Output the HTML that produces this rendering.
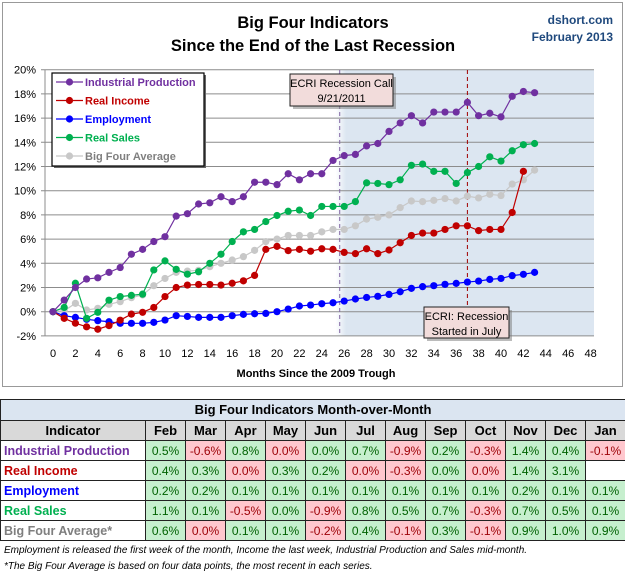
<!DOCTYPE html>
<html><head><meta charset="utf-8"><style>
body{margin:0;background:#fff;font-family:"Liberation Sans",sans-serif}
#wrap{position:relative;width:625px;height:572px;overflow:hidden}
table{position:absolute;left:0;top:399px;border-collapse:collapse;width:625px;table-layout:fixed;font-size:12px}
td,th{border:1px solid #222;padding:0;text-align:center;height:19px;line-height:18px}
.g{background:#c6efce;color:#006100}.r{background:#ffc7ce;color:#9c0006}
.nm{text-align:left;padding-left:3px;font-weight:bold;font-size:12.5px}
.fn{position:absolute;left:4px;font-style:italic;font-size:10px;line-height:12px;color:#000}
</style></head><body><div id="wrap">
<svg id="chart" width="625" height="392" style="position:absolute;left:0;top:0">
<defs><linearGradient id="sh" x1="0" x2="1"><stop offset="0" stop-color="#fff"/><stop offset="0.04" stop-color="#dce6f1"/><stop offset="1" stop-color="#dce6f1"/></linearGradient></defs>
<rect x="2.5" y="2.5" width="620" height="384" fill="#fff" stroke="#999"/>
<text x="313" y="28" text-anchor="middle" font-size="16.5" font-weight="bold">Big Four Indicators</text>
<text x="313" y="51" text-anchor="middle" font-size="16.5" font-weight="bold">Since the End of the Last Recession</text>
<text x="613" y="24" text-anchor="end" font-size="12" font-weight="bold" fill="#1f497d">dshort.com</text>
<text x="613" y="41" text-anchor="end" font-size="12" font-weight="bold" fill="#1f497d">February 2013</text>
<g id="plot"></g>
<text x="316" y="377" text-anchor="middle" font-size="11" font-weight="bold">Months Since the 2009 Trough</text>
</svg>
<table>
<colgroup><col style="width:145px"><col span="12" style="width:40px"></colgroup>
<tr><th colspan="13" style="background:#dbe5f1;font-size:13px;height:20px">Big Four Indicators Month-over-Month</th></tr>
<tr style="background:#d9d9d9;font-size:13px"><th>Indicator</th><th>Feb</th><th>Mar</th><th>Apr</th><th>May</th><th>Jun</th><th>Jul</th><th>Aug</th><th>Sep</th><th>Oct</th><th>Nov</th><th>Dec</th><th>Jan</th></tr>
<tbody id="tb"></tbody>
</table>
<div class="fn" style="top:545px">Employment is released the first week of the month, Income the last week, Industrial Production and Sales mid-month.</div>
<div class="fn" style="top:561px">*The Big Four Average is based on four data points, the most recent in each series.</div>
</div>
<script>
const months=[0,2,4,6,8,10,12,14,16,18,20,22,24,26,28,30,32,34,36,38,40,42,44,46,48];
const yTicks=[-2,0,2,4,6,8,10,12,14,16,18,20];
const industrial=[0,0.96,2.0,2.7,2.8,3.25,3.65,4.75,5.15,5.8,6.2,7.9,8.1,8.9,9.0,9.5,9.1,9.5,10.7,10.7,10.5,11.4,10.9,11.4,11.4,12.5,12.9,13.0,13.7,13.9,14.9,15.6,16.2,15.6,16.5,16.5,16.5,17.3,16.2,16.4,16.1,17.8,18.2,18.1];
const income=[0,-0.55,-0.95,-1.25,-1.45,-1.15,-0.7,-0.2,-0.05,0.35,1.25,2.0,2.2,2.25,2.25,2.2,2.35,2.55,3.0,5.15,5.4,5.05,5.15,5.0,5.2,5.15,4.9,4.8,5.2,4.8,5.1,5.7,6.3,6.5,6.5,6.8,7.1,7.1,6.7,6.8,6.8,8.2,11.6];
const employment=[0,-0.33,-0.47,-0.63,-0.74,-0.83,-0.96,-0.96,-0.96,-0.88,-0.69,-0.33,-0.39,-0.47,-0.47,-0.47,-0.33,-0.22,-0.17,-0.14,0,0.22,0.47,0.55,0.66,0.74,0.88,1.05,1.18,1.27,1.43,1.65,1.93,2.07,2.15,2.26,2.34,2.45,2.53,2.67,2.75,2.98,3.09,3.25];
const sales=[0,0.35,2.35,-0.55,-0.05,0.95,1.25,1.35,1.45,3.45,4.2,3.5,3.1,3.3,4.0,4.75,5.8,6.6,6.8,7.45,7.95,8.3,8.4,7.95,8.7,8.7,8.7,9.1,10.65,10.6,10.5,10.9,12.1,12.2,11.6,11.6,10.6,11.5,12.0,12.8,12.45,13.3,13.8,13.9];
const average=[0,0.08,0.69,0.14,0.28,0.61,0.83,1.16,1.38,2.15,2.75,3.25,3.36,3.42,3.72,4.0,4.27,4.55,5.07,5.79,6.0,6.3,6.3,6.3,6.6,6.8,6.8,7.1,7.65,7.8,8.0,8.6,9.15,9.1,9.2,9.35,9.15,9.55,9.4,9.7,9.6,10.55,10.9,11.7];
const callMonth=25.6, startMonth=37;
const rowNames=["Industrial Production","Real Income","Employment","Real Sales","Big Four Average*"];
const rowColors=["#7030a0","#c00000","#0000ff","#00b050","#7f7f7f"];
const momIndustrial=[0.5,-0.6,0.8,0.0,0.0,0.7,-0.9,0.2,-0.3,1.4,0.4,-0.1];
const momIncome=[0.4,0.3,0.0,0.3,0.2,0.0,-0.3,0.0,0.0,1.4,3.1,null];
const momEmployment=[0.2,0.2,0.1,0.1,0.1,0.1,0.1,0.1,0.1,0.2,0.1,0.1];
const momSales=[1.1,0.1,-0.5,0.0,-0.9,0.8,0.5,0.7,-0.3,0.7,0.5,0.1];
const momAverage=[0.6,0.0,0.1,0.1,-0.2,0.4,-0.1,0.3,-0.1,0.9,1.0,0.9];
const momRed=[[1,3,6,8,11],[2,5,6,8],[],[2,4,8],[1,4,6,8]];

const NS="http://www.w3.org/2000/svg";
const X=m=>53+m*11.2, Y=v=>311.7-v*12.1;
const L=45,R=594,T=70,B=336;
const plot=document.getElementById('plot');
function mk(t,a,p){const e=document.createElementNS(NS,t);for(const k in a)e.setAttribute(k,a[k]);(p||plot).appendChild(e);return e;}
let e=mk('rect',{x:X(callMonth)-4,y:T,width:R-X(callMonth)+4,height:B-T,fill:'url(#sh)'});


yTicks.forEach(v=>{
 let g=mk('line',{x1:L-4,x2:R,y1:Y(v),y2:Y(v),stroke:'#8c8c8c','stroke-width':1});
 
 
 let t=mk('text',{x:36,y:Y(v)+4,'text-anchor':'end','font-size':11});
 t.textContent=v+'%';
 
 
});
e=mk('line',{x1:L,x2:L,y1:T,y2:B,stroke:'#8c8c8c'});


months.forEach(m=>{
 let t=mk('text',{x:X(m),y:357,'text-anchor':'middle','font-size':11});
 t.textContent=m;
 
 
});
e=mk('line',{x1:X(callMonth),x2:X(callMonth),y1:T,y2:B,stroke:'#8064a2','stroke-dasharray':'4,3'});


e=mk('line',{x1:X(startMonth),x2:X(startMonth),y1:T,y2:B,stroke:'#a00000','stroke-dasharray':'4,3'});


const series=[[average,'#c8c8c8','big-four-average'],[employment,'#0000ff','employment'],[income,'#c00000','real-income'],[sales,'#00b050','real-sales'],[industrial,'#7030a0','industrial-production']];
series.forEach(([d,c,n])=>{
 let p=mk('polyline',{points:d.map((v,i)=>X(i)+','+Y(v)).join(' '),fill:'none',stroke:c,'stroke-width':1.2});
 
 
 d.forEach((v,i)=>{
  let q=mk('circle',{cx:X(i),cy:Y(v),r:3.6,fill:c});
  
  
 });
});
function box(x,y,w,h,lines,name){
 let g=mk('g',{});
 
 
 mk('rect',{x:x+3,y:y+3,width:w,height:h,fill:'#777',opacity:0.5},g);
 mk('rect',{x:x,y:y,width:w,height:h,fill:'#f2dcdb',stroke:'#222'},g);
 lines.forEach((s,i)=>{let t=mk('text',{x:x+w/2,y:y+13+i*15,'text-anchor':'middle','font-size':11},g);t.textContent=s;});
}
box(290,74,103,32,['ECRI Recession Call','9/21/2011'],'ecri-call-annotation');
box(424,307,85,31,['ECRI: Recession','Started in July'],'recession-start-annotation');
let lg=mk('g',{});


mk('rect',{x:54,y:75,width:152,height:93,fill:'#666'},lg);
mk('rect',{x:52,y:73,width:152,height:93,fill:'#fff',stroke:'#000','stroke-width':1.2},lg);
[['Industrial Production','#7030a0'],['Real Income','#c00000'],['Employment','#0000ff'],['Real Sales','#00b050'],['Big Four Average','#c8c8c8']].forEach(([s,c],i)=>{
 const y=82+i*18.5;
 let en=mk('g',{},lg);
 
 
 mk('line',{x1:56,x2:83,y1:y,y2:y,stroke:c,'stroke-width':1.2},en);
 mk('circle',{cx:69.5,cy:y,r:3.6,fill:c},en);
 let t=mk('text',{x:85,y:y+4,'font-size':11,'font-weight':'bold',fill:i==4?'#7f7f7f':c},en);t.textContent=s;
});
const tb=document.getElementById('tb');
[momIndustrial,momIncome,momEmployment,momSales,momAverage].forEach((row,ri)=>{
 const tr=document.createElement('tr');
 
 
 const th=document.createElement('td');th.className='nm';th.style.color=rowColors[ri];th.textContent=rowNames[ri];tr.appendChild(th);
 row.forEach((v,ci)=>{
  const td=document.createElement('td');
  
  
  if(v!==null){td.textContent=v.toFixed(1)+'%';td.className=momRed[ri].includes(ci)||v<0?'r':'g';}
  tr.appendChild(td);
 });
 tb.appendChild(tr);
});
</script></body></html>
